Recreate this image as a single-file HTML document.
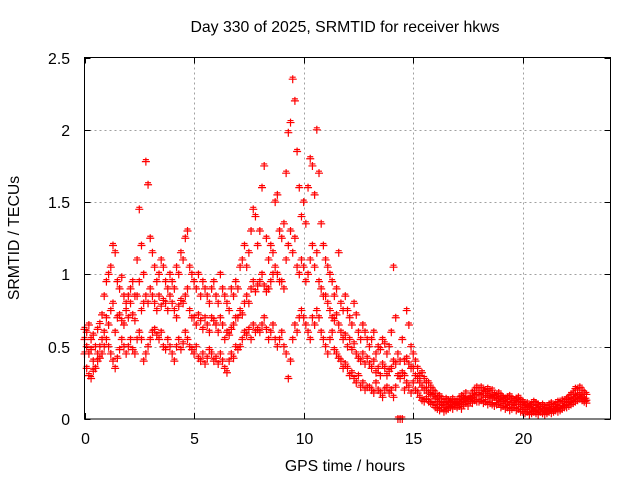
<!DOCTYPE html>
<html><head><meta charset="utf-8"><style>
body{margin:0;background:#fff;}
svg{display:block;font-family:"Liberation Sans",sans-serif;}
</style></head><body>
<svg id="chart" width="640" height="480">
<text x="345" y="32" font-size="15.8" text-anchor="middle">Day 330 of 2025, SRMTID for receiver hkws</text>
<text x="345" y="471" font-size="15.8" text-anchor="middle">GPS time / hours</text>
<text transform="translate(19,238) rotate(-90)" font-size="15.8" text-anchor="middle">SRMTID / TECUs</text>
<g id="grid"></g><g id="axes"></g><g id="marks"></g>
<rect x="84.5" y="57.5" width="526" height="361.5" fill="none" stroke="#000"/>
</svg>
<script>
const xTicks=[0,5,10,15,20];
const yTicks=[0,0.5,1,1.5,2,2.5];
const yTickLabels=["0","0.5","1","1.5","2","2.5"];
const startHour=0, stepHour=0.1;
const seriesA=[.62,.60,.65,.55,.58,.50,.62,.66,.72,.85,.95,1.0,1.05,1.2,1.15,.95,.90,.98,.85,.80,.85,.90,.95,.85,1.1,1.45,1.2,1.0,1.78,1.62,1.25,1.15,1.05,.95,1.0,1.1,1.05,.95,.90,1.0,.95,.90,1.05,1.0,1.15,1.1,1.25,1.3,1.05,1.0,.95,.90,1.0,.85,.95,.90,.85,.80,.90,.95,.85,.80,1.0,.90,.85,.80,.75,.90,.85,.95,.90,1.05,1.1,1.2,1.05,1.15,1.3,1.45,1.4,1.2,1.3,1.6,1.75,1.25,1.1,1.2,1.15,1.5,1.55,1.3,1.25,1.35,1.7,1.98,2.05,2.35,2.2,1.85,1.6,1.4,1.5,1.35,1.6,1.8,1.75,1.55,2.0,1.7,1.35,1.2,1.1,1.05,1.0,.95,.85,.90,1.15,.80,.75,.85,.75,.70,.65,.80,.72,.60,.55,.65,.60,.55,.50,.55,.60,.45,.50,.48,.55,.52,.45,.50,.60,1.05,.70,.45,.40,.55,.40,.75,.65,.50,.45,.40,.35,.30,.32,.28,.25,.25,.22,.20,.18,.15,.16,.14,.12,.14,.13,.12,.14,.12,.12,.14,.16,.15,.18,.14,.15,.18,.20,.22,.20,.22,.20,.19,.21,.18,.20,.17,.16,.18,.16,.15,.14,.15,.16,.14,.13,.14,.15,.13,.12,.10,.11,.09,.10,.12,.11,.10,.09,.10,.09,.08,.10,.11,.09,.10,.12,.11,.13,.12,.14,.15,.17,.18,.21,.20,.22,.20,.18,.17];
const seriesB=[.55,.50,.45,.48,.40,.35,.45,.50,.55,.60,.70,.65,.75,.80,.60,.70,.72,.68,.65,.75,.70,.80,.72,.68,.85,.95,.75,.80,.85,.80,.90,.85,.80,.75,.85,.78,.82,.80,.75,.85,.80,.75,.70,.78,.82,.80,.85,.90,.75,.70,.70,.65,.72,.68,.62,.70,.65,.60,.70,.68,.65,.60,.70,.65,.55,.60,.58,.62,.65,.70,.70,.75,.72,.80,.85,.80,.90,.95,.88,.92,.95,1.0,.92,.88,.90,.95,1.0,1.05,1.0,.95,.95,.90,1.1,1.2,1.3,1.15,1.25,1.05,1.0,1.1,1.05,.95,1.0,1.1,1.2,1.05,1.15,.95,.90,.85,.85,.80,.75,.70,.68,.72,.65,.60,.55,.58,.50,.55,.48,.52,.45,.42,.40,.45,.38,.42,.38,.35,.40,.32,.35,.30,.38,.35,.30,.33,.35,.40,.38,.30,.28,.32,.30,.42,.38,.35,.35,.30,.28,.25,.22,.20,.20,.18,.17,.16,.14,.12,.11,.10,.10,.09,.10,.11,.10,.11,.10,.11,.12,.13,.14,.13,.14,.15,.16,.17,.17,.16,.18,.15,.16,.15,.14,.15,.13,.14,.12,.13,.11,.12,.10,.11,.10,.11,.12,.10,.09,.08,.07,.08,.07,.06,.08,.07,.06,.07,.06,.05,.06,.07,.06,.07,.08,.07,.08,.09,.10,.12,.13,.14,.15,.16,.17,.15,.14,.13];
const seriesC=[.45,.35,.30,.28,.33,.35,.40,.42,.45,.50,.55,.50,.45,.40,.35,.42,.48,.55,.50,.45,.50,.55,.48,.45,.55,.60,.55,.40,.45,.50,.55,.60,.62,.58,.55,.60,.50,.48,.55,.50,.45,.40,.50,.55,.48,.52,.60,.55,.50,.48,.45,.50,.42,.40,.45,.38,.42,.48,.45,.40,.42,.38,.45,.40,.35,.32,.40,.45,.42,.50,.48,.50,.55,.60,.58,.62,.55,.65,.60,.62,.60,.65,.70,.62,.55,.60,.65,.55,.50,.55,.60,.50,.45,.28,.40,.55,.65,.60,.70,.75,.70,.65,.60,.55,.70,.65,.75,.70,.60,.55,.50,.45,.55,.60,.48,.45,.42,.40,.35,.38,.35,.30,.32,.28,.25,.30,.22,.25,.20,.22,.22,.20,.18,.25,.20,.18,.15,.20,.22,.18,.20,.15,.22,0,0,0,.20,.25,.22,.18,.25,.20,.18,.15,.13,.12,.14,.12,.11,.10,.08,.07,.06,.08,.05,.06,.07,.08,.07,.09,.08,.09,.07,.10,.11,.09,.12,.11,.13,.12,.12,.13,.11,.12,.10,.11,.10,.09,.10,.11,.08,.09,.07,.08,.06,.07,.08,.06,.07,.05,.05,.04,.05,.03,.04,.05,.04,.03,.05,.04,.03,.04,.05,.04,.05,.06,.05,.06,.07,.08,.08,.09,.10,.11,.12,.13,.14,.13,.12,.11];
const X0=84.5,X1=610.5,Y0=419,Y1=57.5,XMAX=24,YMAX=2.5;
const xs=v=>X0+(X1-X0)*v/XMAX;
const ys=v=>Y0-(Y0-Y1)*v/YMAX;
const NS="http://www.w3.org/2000/svg";
function mk(tag,attrs,parent){const e=document.createElementNS(NS,tag);for(const k in attrs)e.setAttribute(k,attrs[k]);parent.appendChild(e);return e;}
const grid=document.getElementById('grid'),axes=document.getElementById('axes'),marks=document.getElementById('marks');
xTicks.forEach(t=>{
  const x=Math.round(xs(t))+0.5;
  if(t>0){const g=mk('line',{x1:x,x2:x,y1:Y1,y2:Y0,stroke:'#a0a0a0','stroke-dasharray':'2,3'},grid);
  
  }
  mk('line',{x1:x,x2:x,y1:Y0,y2:Y0-6,stroke:'#000'},axes);
  mk('line',{x1:x,x2:x,y1:Y1,y2:Y1+6,stroke:'#000'},axes);
  const l=mk('text',{x:x,y:444,'font-size':15.8,'text-anchor':'middle'},axes);
  l.textContent=t;
  
  
});
yTicks.forEach((t,i)=>{
  const y=Math.round(ys(t))+0.5;
  if(t>0&&t<YMAX){const g=mk('line',{x1:X0,x2:X1,y1:y,y2:y,stroke:'#a0a0a0','stroke-dasharray':'2,3'},grid);
  
  }
  mk('line',{x1:X0,x2:X0+6,y1:y,y2:y,stroke:'#000'},axes);
  mk('line',{x1:X1,x2:X1-6,y1:y,y2:y,stroke:'#000'},axes);
  const l=mk('text',{x:70,y:y+5.5,'font-size':15.8,'text-anchor':'end'},axes);
  l.textContent=yTickLabels[i];
  
  
});
[seriesA,seriesB,seriesC].forEach(series=>{
  series.forEach((v,i)=>{
    const h=startHour+i*stepHour;
    const x=xs(h),y=ys(v);
    const p=mk('path',{d:`M${x-4},${y}H${x+4}M${x},${y-4}V${y+4}M${x-3},${y-2}H${x+3}`,stroke:'#ff0000','stroke-width':1.2,fill:'none'},marks);
    
    
  });
});
</script>
</body></html>
